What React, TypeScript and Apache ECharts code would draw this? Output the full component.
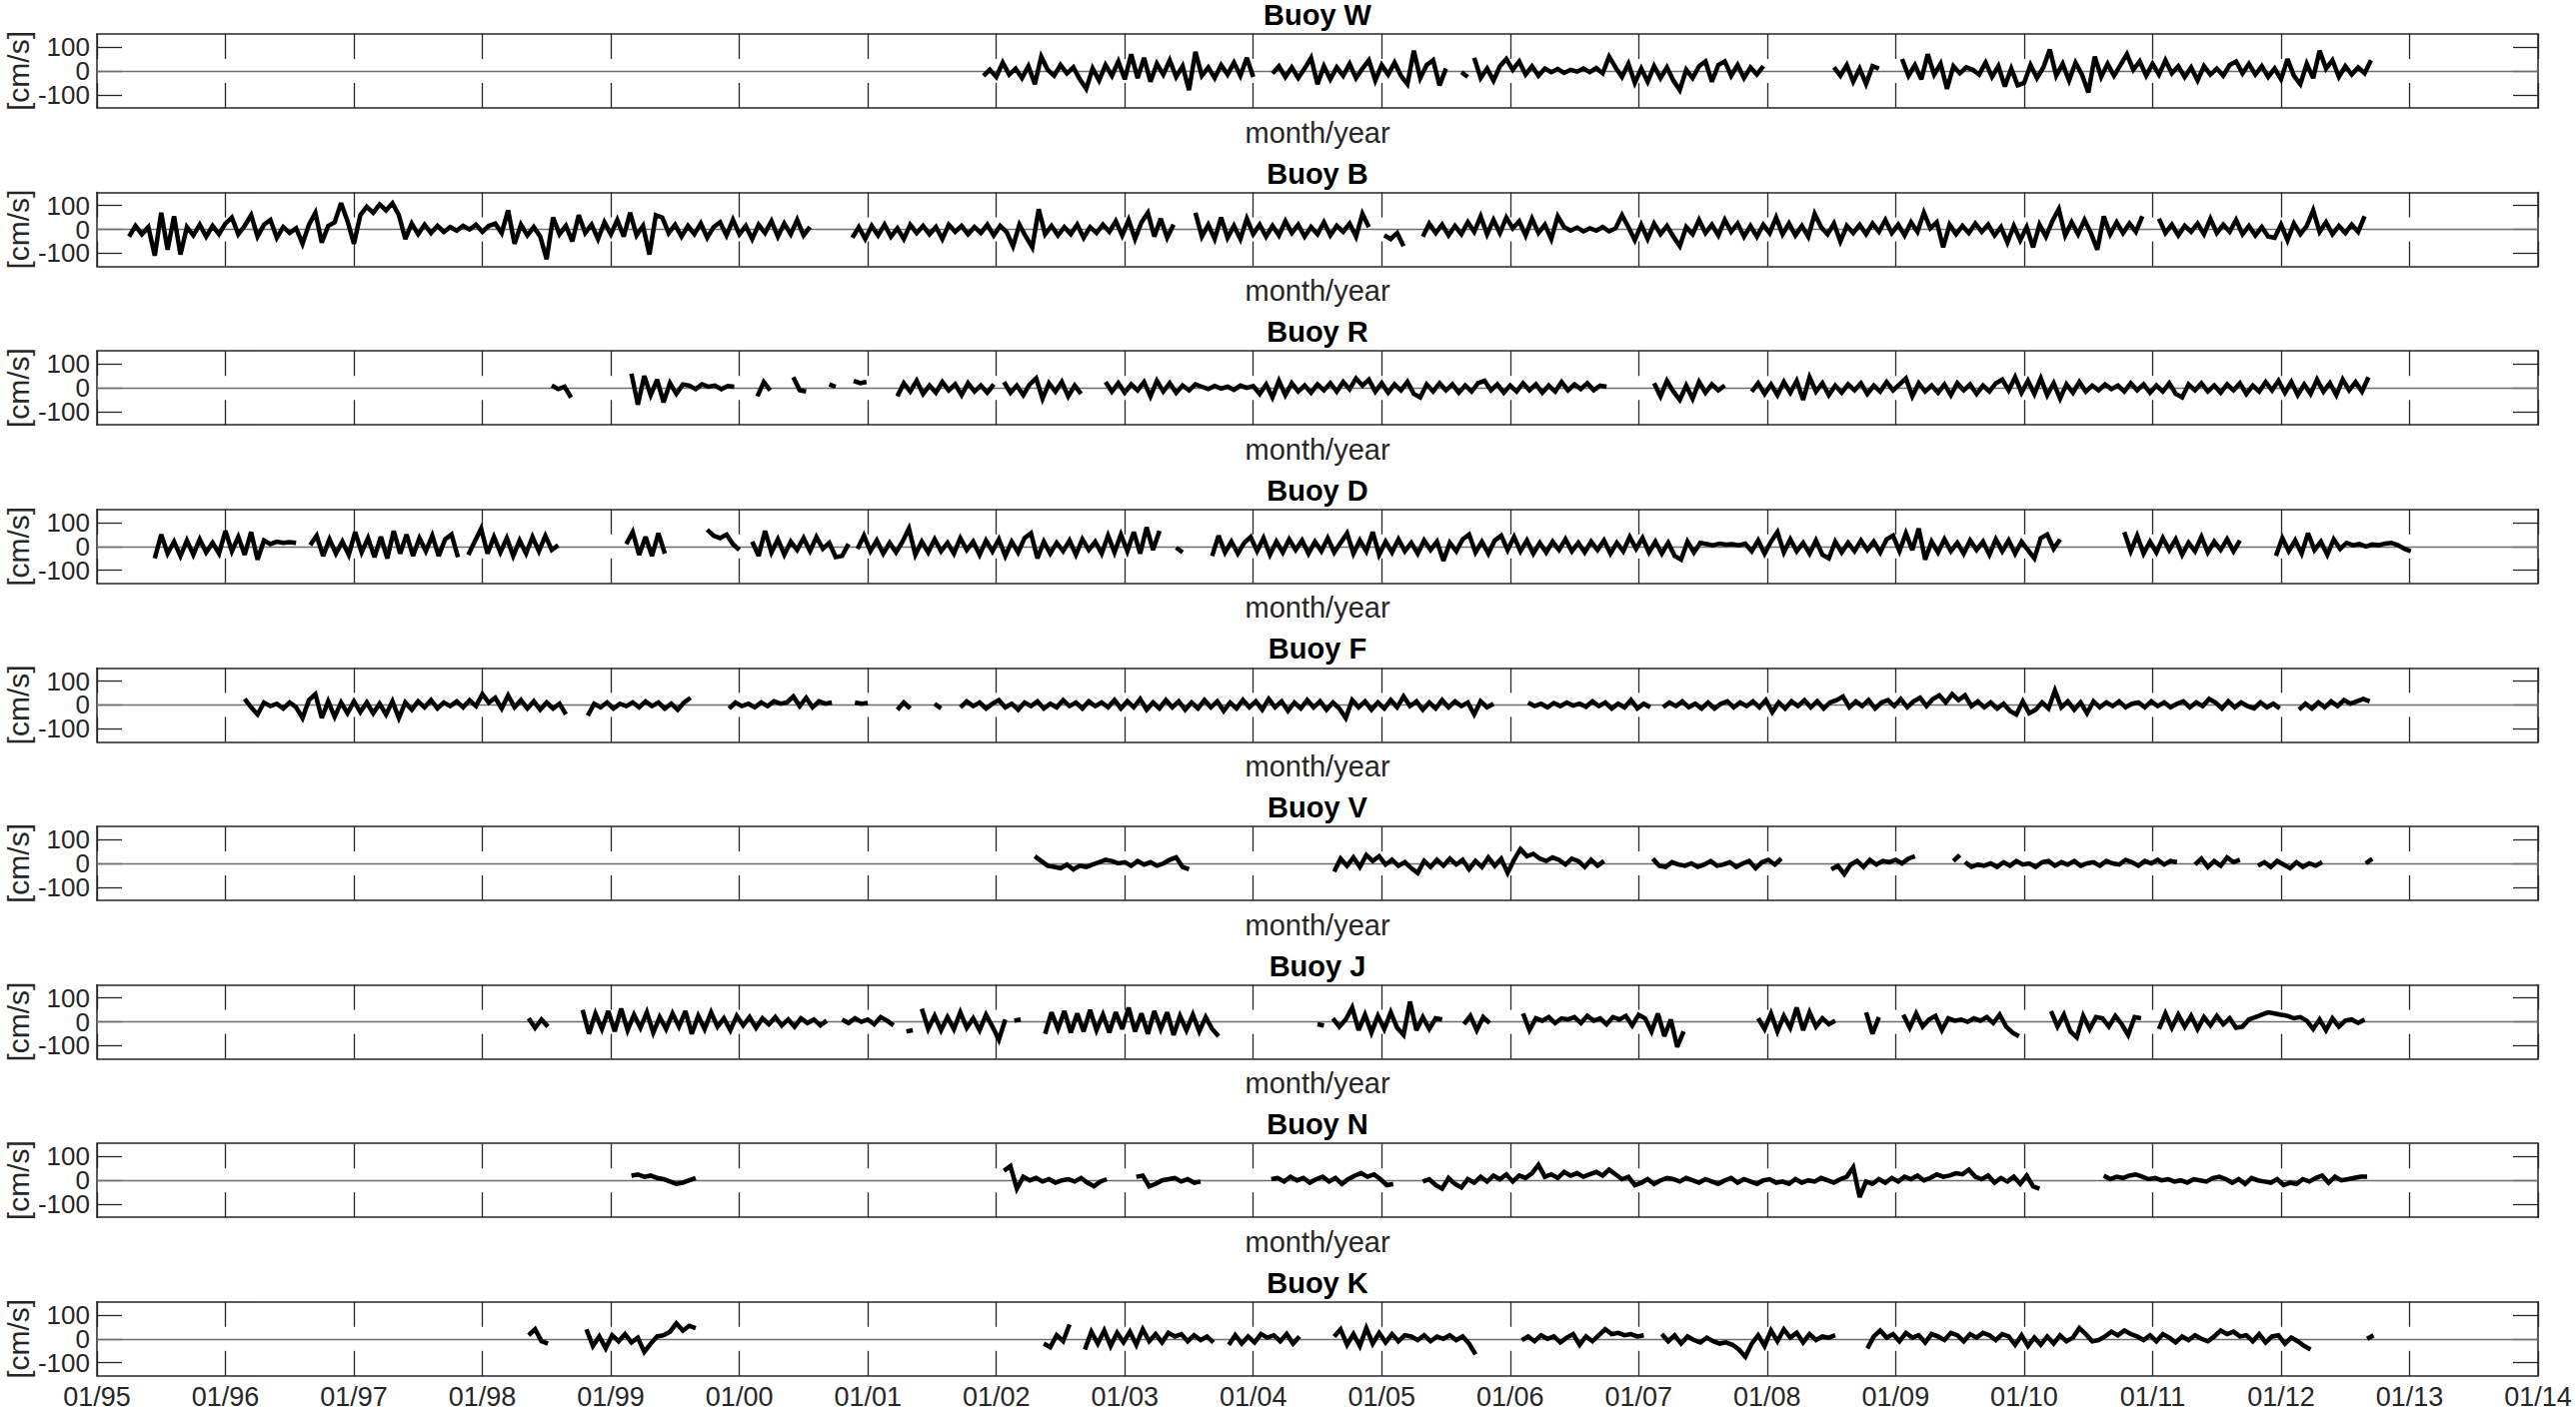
import React, { useEffect, useRef } from "react";
import * as echarts from "echarts";

// ---------- data ----------
const STEP = 0.05; // sampling step of each record, in years
const X_MIN = 1995;
const X_MAX = 2014;
const X_TICK_LABELS = [
  "01/95", "01/96", "01/97", "01/98", "01/99", "01/00", "01/01", "01/02", "01/03", "01/04",
  "01/05", "01/06", "01/07", "01/08", "01/09", "01/10", "01/11", "01/12", "01/13", "01/14",
];
const Y_TICKS = [-100, 0, 100];
const Y_OUTER_LABELS = [-100, 100];
const Y_MID_LABELS = [0];
const BUOY_NAMES = ["W", "B", "R", "D", "F", "V", "J", "N", "K"];

type Seg = [number, number[]]; // [start year, values cm/s]

const buoyW: Seg[] = [
  [2001.9, [-20, 5, -25, 35, -15, 10, -30, 20, -55, 60, 5, -20, 25, -10, 15, -35, -75, 10, -40, 25, -20, 40, -35, 70, -30, 55, -45, 30, -15, 45, -25, 20, -80, 80, -20, 15, -30, 25, -15, 35, -20, 55, -25]],
  [2004.15, [-10, 20, -25, 15, -30, 10, 55, -55, 20, -35, 15, -20, 30, -30, 10, 45, -40, 25, -15, 35, -20, -55, 85, -30, 25, 45, -60, 10]],
  [2005.62, [-5, -25]],
  [2005.72, [55, -30, 10, -40, 20, 50, 5, 40, -15, 20, -20, 10, -5, 8, -8, 5, -3, 10, -5, 12, -10, 60, 15, -25, 30, -50, 10, -45, 20, -30, 15, -40, -80, 5, -30, 20, 40, -45, 25, 40, -20, 25, -30, 15, -15, 20]],
  [2008.52, [15, -20, 25, -45, 10, -55, 20, 10]],
  [2009.05, [50, -20, 25, -35, 70, -15, 30, -75, 20, -10, 15, 5, -15, 35, -25, 20, -65, 10, -60, -50, 25, -30, 15, 90, -20, 30, -40, 35, -15, -90, 60, -25, 30, -20, 25, 70, 5, 40, -20, 30, -15, 45, -10, 20, -25, 15, -40, 20, -15, 10, -20, 25, 40, -10, 30, -15, 20, -25, 10, -35, 50, -20, -55, 30, -30, 85, 10, 45, -25, 20, -15, 15, -10, 45]],
];

const buoyB: Seg[] = [
  [1995.25, [-30, 15, -20, 10, -110, 70, -85, 55, -105, 10, -25, 20, -30, 15, -20, 25, 50, -20, 15, 60, -30, 20, 40, -35, 10, -15, 5, -60, 20, 70, -55, 15, 30, 110, 35, -60, 60, 95, 70, 105, 80, 110, 60, -40, 25, -20, 20, -15, 15, -10, 10, -5, 15, 0, 20, -10, 15, 25, -15, 80, -60, 20, -25, 10, -30, -125, 50, -20, 15, -50, 60, -15, 20, -40, 30, -20, 40, -30, 70, -25, 15, -105, 60, 50, -15, 20, -30, 15, -20, 25, -35, 10, 30, -25, 40, -20, 15, -40, 20, -15, 35, -30, 25, -20, 40, -25, 10]],
  [2000.88, [-35, 10, -40, 15, -25, 20, -30, 5, -40, 20, -15, 15, -20, 10, -40, 20, -10, 15, -20, 10, -15, 20, -25, 15, -10, -70, 20, -30, -75, 85, -20, 15, -25, 10, -20, 20, -35, 10, -15, 20, -10, 35, -25, 40, -40, 30, 70, -30, 45, -35, 20]],
  [2003.55, [70, -30, 20, -40, 50, -35, 15, -40, 45, -20, 20, -30, 15, -25, 35, -15, 20, -30, 10, -20, 30, -25, 15, -10, 25, -30, 65, 10]],
  [2005.02, [-25, -40, -15, -70]],
  [2005.32, [-30, 25, -15, 20, -25, 15, -20, 30, -10, 55, -20, 40, -15, 50, 5, 35, -25, 45, -15, 20, -40, 55, 10, -5, 8, -8, 5, -5, 10, -8, 5, 60, 10, -45, 20, -40, 25, -20, 15, -30, -70, 10, -20, 40, -15, 20, -25, 40, -10, 25, -30, 15, -30, 20, -15, 50, -20, 25, -25, 15, -30, 65, 10, -20, 25, -50, 15, -15, 20, -20, 25, -10, 40, -15, 20, -25, 30, -10, 70, 5, 30, -75, 20, -20, 15, -15, 25, -10, 20, -25, 10, -55, 15, -45, 10, -75, 20, -30, 35, 85, -25, 30, -20, 40, -15, -85, 55, -20, 30, -15, 25, -10, 55]],
  [2011.05, [45, -15, 20, -25, 15, -10, 25, -20, 45, -15, 20, -10, 40, -20, 15, -25, 10, -30, -35, 20, -45, 25, -20, 15, 80, -10, 30, -20, 15, -15, 20, -10, 55]],
];

const buoyR: Seg[] = [
  [1998.54, [10, -5, 5, -40]],
  [1999.16, [60, -70, 50, -30, 35, -60, 20, -25, 15, 10, -5, 15, 5, 10, -5, 8, 5]],
  [2000.14, [-35, 25, -10]],
  [2000.42, [45, -10, -15]],
  [2000.7, [15, 5]],
  [2000.89, [30, 20, 25]],
  [2001.23, [-35, 20, -15, 30, -25, 10, -20, 25, -10, 15, -30, 20, -15, 10, -20, 15]],
  [2002.06, [25, -20, 10, -30, 15, 40, -45, 20, -15, 25, -35, 10, -25]],
  [2002.85, [25, -15, 20, -20, 15, -10, 25, -35, 30, -15, 20, -20, 10, -10, 15, 5, -5, 8, -3, 5, -8, 10, 0, 8, -25, 15, -40, 30, -30, 20, -15, 10, -20, 15, -10, 20, -15, 25, -5, 40, 10, 35, -15, 20, -20, 15, -10, 25, -25, -40, 15, -15, 20, -10, 15, -20, 10, -15, 20, 30, -10, 15, -20, 10, -15, 20, -10, 15, -20, 10, -15, 25, -10, 15, -5, 20, -10, 10, 5]],
  [2007.12, [20, -35, 30, -15, -50, 10, -45, 25, -20, 15, -10, 10]],
  [2007.88, [-15, 20, -25, 15, -30, 25, -20, 30, -50, 45, -15, 20, -30, 10, -20, 15, -10, 20, -25, 10, -15, 25, -10, 15, 40, -35, 20, -15, 10, -20, 15, -30, 20, -10, 15, -25, 10, -15, 20, 35, -10, 45, -20, 30, -25, 40, -30, 20, -45, 15, -20, 25, -15, 10, -10, 15, -5, 10, -15, 20, -10, 15, -20, 10, -15, 20, -25, -40, 15, -10, 20, -15, 10, -20, 15, -10, 20, -25, 10, -15, 25, -10, 30, -20, 25, -30, 15, -25, 35, -15, 20, -30, 35, -10, 25, -15, 45]],
];

const buoyD: Seg[] = [
  [1995.45, [-50, 50, -30, 20, -40, 25, -35, 30, -25, 15, -30, 65, -20, 40, -35, 60, -55, 25, 10, 20, 15, 18, 15]],
  [1996.66, [5, 45, -40, 30, -30, 20, -35, 60, -25, 35, -45, 40, -50, 65, -30, 50, -40, 35, -20, 45, -40, 30, 50, -45]],
  [1997.89, [-35, 20, 75, -30, 40, -25, 35, -40, 25, -30, 40, -20, 45, -15, 5]],
  [1999.12, [10, 60, -35, 40, -40, 55, -30]],
  [1999.75, [70, 45, 35, 50, 10, -15]],
  [2000.1, [20, -40, 65, -25, 30, -35, 20, -15, 35, -20, 40, -10, 15, -45, -40, 10]],
  [2000.92, [-10, 45, -20, 25, -30, 15, -25, 20, 75, -35, 20, -25, 30, -20, 15, -30, 35, -15, 20, -35, 25, -20, 30, -40, 20, -25, 35, 55, -50, 20, -30, 15, -20, 25, -35, 30, -15, 20, -30, 45, -25, 50, -20, 60, -30, 80, -15, 65]],
  [2003.4, [-5, -25]],
  [2003.68, [-40, 45, -25, 20, -30, 15, 40, -20, 35, -35, 20, -25, 30, -15, 25, -30, 20, -20, 35, -25, 15, 55, -30, 25, -20, 60, -35, 20, -25, 30, -20, 15, -30, 25, -15, 20, -60, 15, -20, 30, 50, -25, 20, -30, 25, 45, -15, 40, -20, 25, -30, 15, -25, 20, -15, 30, -20, 15, -25, 20, -15, 25, -30, 15, -20, 40, -10, 35, -25, 20, -30, 15, -40, -55, 20, -25, 15, 10, 5, 12, 8, 10, 5, 12, -20, 25, -30, 20, 60, -25, 30, -20, 15, -30, 25, -35, -50, 20, -25, 15, -20, 25, -15, 20, -25, 30, 45, -20, 55, -15, 75, -55, 20, -25, 30, -20, 15, -30, 25, -15, 20, -35, 30, -20, 25, -30, 20, -15, -50, 35, 50, -10, 30]],
  [2010.78, [60, -20, 45, -30, 20, -25, 35, -15, 30, -35, 15, -20, 40, -25, 20, -15, 30, -20, 25]],
  [2011.96, [-40, 35, -20, 25, -30, 55, -15, 20, -35, 30, -10, 15, 5, 10, 0, 8, 5, 12, 15, 5, -10, -20]],
];

const buoyF: Seg[] = [
  [1996.15, [25, -10, -40, 10, -5, 5, -15, 10, -10, -55, 20, 45, -55, 15, -50, 10, -35, 15, -30, 10, -35, 5, -40, 15, -55, 10, -20, 15, -10, 20, -15, 10, -5, 15, -10, 20, -5, 45, 10, 30, -15, 40, -10, 20, -15, 15, -20, 10, -15, 5, -40]],
  [1998.82, [-45, 5, -10, 10, -15, 5, -5, 10, -10, 15, -5, 10, -15, 5, -20, 10, 30]],
  [1999.92, [-15, 10, -5, 5, -10, 10, -5, 15, 5, 10, 35, -5, 30, -10, 15, 5, 10]],
  [2000.9, [10, 5, 8]],
  [2001.23, [-20, 10, -15]],
  [2001.52, [5, -15]],
  [2001.72, [-10, 15, -5, 10, -15, 5, 20, -10, 5, -20, 10, -5, 15, -15, 5, -10, 20, -5, 10, -15, 15, -5, 10, -10, 20, -15, 15, -10, 25, -20, 10, -15, 20, -10, 15, -20, 10, -15, 20, -10, 15, -25, 10, -15, 20, -10, 15, -20, 25, -10, 15, -25, 10, -15, 20, -10, 15, -20, 10, -15, -55, 20, -10, 15, -20, 10, -15, 20, -10, 35, -5, 15, -20, 10, -15, 20, -10, 15, -5, 10, -40, 15, -10, 5]],
  [2006.14, [10, -5, 5, -10, 8, -5, 10, -3, 5, -8, 15, -5, 10, -15, 5, -10, 20, -15, 5, -10]],
  [2007.19, [-10, 10, -5, 15, -10, 5, -15, 10, -15, 5, 15, -10, 10, -5, 15, -10, 20, -30, 10, -15, 15, -5, 20, -10, 15, -15, 10, 20, 35, -10, 15, -5, 20, -15, 10, 20, -5, 25, -10, 15, 30, -5, 25, 40, 10, 45, 20, 40, -5, 15, -10, 10, -15, 5, -25, -40, 15, -35, -20, 10, -15, 60, -10, 15, -20, 10, -35, 15, -10, 10, -5, 15, -10, 5, 10, -10, 15, -5, 10, -10, 5, 15, -10, 10, -5, 25, 10, -15, 15, -10, 10, -5, -15, 10, -10, 5, -15]],
  [2012.14, [-20, 5, -15, 10, -10, 15, -5, 20, 5, 15, 25, 15]],
];

const buoyV: Seg[] = [
  [2002.3, [30, 10, -10, -15, -20, -5, -25, -10, -15, -5, 5, 15, 10, 0, 5, -10, 10, -5, 5, -10, 0, 15, 25, -15, -25]],
  [2004.63, [-35, 20, -10, 25, -15, 35, 10, 30, -5, 15, -10, 5, -20, -40, 10, -15, 15, -10, 20, -5, 15, -25, 10, -15, 25, -10, 20, -40, 15, 60, 30, 40, 20, 10, 25, 15, -5, 20, 10, -15, 15, -10, 10]],
  [2007.11, [20, -10, -15, 5, -5, -10, 0, -15, -5, 10, -10, -5, 5, -15, 0, 10, -20, 5, 15, -5, 20]],
  [2008.5, [-25, -10, -45, -5, 10, -15, 15, -5, 10, 5, 15, 0, 20, 30]],
  [2009.45, [10, 35]],
  [2009.54, [5, -15, -5, -10, 0, -15, 5, -10, 10, -5, 0, -15, 5, 10, -10, 5, -5, 10, -10, 0, 5, -10, 10, 0, -5, 15, 5, -10, 10, 0, 15, -5, 10, 5]],
  [2011.33, [-5, 20, -15, 10, -10, 25, 5, 15]],
  [2011.82, [-10, 5, -15, 10, -5, -20, 5, -15, 0, -10, 5]],
  [2012.66, [0, 20]],
];

const buoyJ: Seg[] = [
  [1998.36, [15, -25, 10, -20]],
  [1998.78, [50, -50, 35, -30, 45, -40, 55, -35, 30, -25, 40, -45, 20, -30, 35, -20, 45, -50, 25, -30, 40, -20, 15, -35, 25, -15, 20, -25, 15, -10, 20, -15, 10, -20, 15, -5, 10, -15, 5]],
  [2000.8, [10, -5, 15, 0, 10, -10, 20, 5, -15]],
  [2001.3, [-40, -35]],
  [2001.42, [55, -30, 25, -35, 20, -30, 40, -25, 15, -35, 30, -20, -75, 10]],
  [2002.14, [5, 10]],
  [2002.38, [-50, 40, -30, 45, -45, 35, -40, 50, -35, 30, -45, 40, -30, 60, -40, 35, -50, 45, -30, 40, -55, 25, -35, 30, -40, 20, -30, -60]],
  [2004.5, [-10, -15]],
  [2004.62, [15, -20, 10, 60, -35, 30, -45, 25, -30, 40, -25, -55, 85, -35, 20, -30, 15, 10]],
  [2005.64, [-10, 25, -35, 20, -5]],
  [2006.1, [35, -35, 15, 5, 20, -5, 15, 10, 20, -5, 25, 5, 15, -10, 20, 10, 25, -15, 30, 15, -40, 35, -60, 10, -105, -40]],
  [2007.93, [15, -30, 35, -40, 25, -25, 60, -35, 40, -20, 15, -10, 5]],
  [2008.77, [40, -50, 20]],
  [2009.06, [30, -25, 35, -20, 10, 25, -35, 15, 5, 10, 0, 15, 5, 20, -5, 30, -20, -45, -60]],
  [2010.21, [45, -20, 30, -40, -65, 25, -30, 20, 15, -20, 25, -10, -55, 20, 15]],
  [2011.05, [-30, 35, -25, 30, -20, 25, -30, 20, -15, 25, -10, 15, -25, -20, 10, 20, 30, 40, 35, 30, 25, 15, 20, 5, -30, 10, -35, 15, -20, 5, 10, -5, 10]],
];

const buoyN: Seg[] = [
  [1999.16, [20, 25, 15, 20, 10, 5, -5, -15, -10, 0, 10]],
  [2002.06, [40, 60, -35, 15, 0, 10, -5, 5, -10, 0, 5, -5, 10, -10, -25, -5, 5]],
  [2003.09, [15, 20, -25, -15, 0, 5, 10, -5, 5, -10, -5]],
  [2004.14, [5, 10, -5, 15, 0, 10, -10, 5, 15, -5, 10, -15, 5, 20, 30, 15, 25, 5, -20, -15]],
  [2005.32, [-5, 5, -20, -35, 10, -15, -30, 5, -10, 15, -5, 20, 5, 25, -5, 20, 10, 30, 65, 15, 25, 10, 35, 20, 30, 15, 25, 35, 20, 45, 25, 5, 15, -20, -10, 5, -15, 0, 10, 5, -5, 10, 0, -10, 5, -5, -15, 0, 10, -10, 5, -5, -15, 0, 5, -10, -5, -15, 5, -10, 0, -5, 10, 0, -10, 5, 15, 55, -70, -5, -15, 5, -10, 10, -5, 15, 5, 20, 0, 10, 25, 15, 20, 30, 25, 45, 15, 5, 20, -10, 10, -5, 15, -15, 20, -25, -35]],
  [2010.62, [20, 5, 15, 10, 20, 25, 15, 5, 10, 0, 5, -5, 0, -10, 5, 0, -5, 10, 15, 5, -10, 5, -15, 10, 0, -5, -10, 5, -20, -10, -15, 5, -5, 10, 20, -10, 15, 0, 5, 10, 15, 15]],
];

const buoyK: Seg[] = [
  [1998.36, [15, 40, -10, -20]],
  [1998.81, [40, -30, 10, -40, 15, -10, 20, -15, 5, -55, -20, 10, 15, 30, 65, 35, 55, 45]],
  [2002.37, [-20, -35, 15, -10, 60]],
  [2002.69, [-45, 30, -20, 35, -30, 25, -15, 30, -25, 40, -10, 20, -15, 25, 10, 20, -10, 15, -5, 10, -15]],
  [2003.81, [-25, 15, -20, 10, -15, 20, 5, 15, -10, 20, -20, 10]],
  [2004.63, [10, 40, -25, 20, -30, 45, -20, 25, -15, 20, -10, 15, 10, -5, 15, -10, 10, 0, 15, -5, 10, -20, -65]],
  [2006.09, [-5, 10, -10, 15, 0, 10, -15, 5, 20, -25, 10, -10, 15, 40, 20, 25, 15, 20, 10, 15]],
  [2007.18, [20, -10, 15, -20, 10, -5, -15, 5, -10, -20, -15, -25, -45, -75, -20, 15, -30, 35, -10, 40, 5, 25, -15, 20, -5, 10, 5, 15]],
  [2008.78, [-40, 10, 35, 5, 20, -10, 25, 5, 15, -15, 20, 10, -5, 25, 15, -10, 20, 5, 25, 15, -5, 20, 10, -25, 15, -30, 5, -25, 10, -20, 15, -10, 5, 45, 20, -10, -5, 10, 30, 15, 35, 20, 10, -5, 15, -10, 20, 5, -15, 10, -5, 15, 0, -10, 10, 35, 20, 30, 10, 15, -10, 20, -15, 10, 15, -20, 5, -10, -30, -45]],
  [2012.67, [0, 15]],
];

const BUOY_DATA: Seg[][] = [buoyW, buoyB, buoyR, buoyD, buoyF, buoyV, buoyJ, buoyN, buoyK];

// ---------- layout / style ----------
const FONT = '"Liberation Sans", Arial, Helvetica, sans-serif';
const AXIS_COLOR = "#262626";
const GRID_LEFT = 97;
const GRID_WIDTH = 2442;
const GRID_TOP0 = 34;
const GRID_PITCH = 158.6;
const GRID_HEIGHT = 74;
const Y_MIN = -155;
const Y_MAX = 155;

function toSeriesData(segs: Seg[]) {
  const out: (number | null)[][] = [];
  segs.forEach(([start, vals], k) => {
    if (k > 0) out.push([start - STEP / 2, null]);
    vals.forEach((v, i) => out.push([+(start + i * STEP).toFixed(4), v]));
  });
  return out;
}

function buildOption() {
  const n = BUOY_NAMES.length;
  const grid: any[] = [];
  const xAxis: any[] = [];
  const yAxis: any[] = [];
  const series: any[] = [];
  const graphic: any[] = [];
  const lineStyle = { color: AXIS_COLOR, width: 1.5 };
  const tickStyle = { color: AXIS_COLOR, width: 1.3 };
  const yLabelBase = {
    show: true, fontSize: 26, color: AXIS_COLOR, fontFamily: FONT, margin: 7,
    showMinLabel: true, showMaxLabel: true,
  };

  for (let i = 0; i < n; i++) {
    const top = GRID_TOP0 + GRID_PITCH * i;
    grid.push({
      left: GRID_LEFT, width: GRID_WIDTH, top, height: GRID_HEIGHT,
      containLabel: false, outerBoundsMode: "none",
    });
    const last = i === n - 1;
    // bottom x axis
    xAxis.push({
      type: "value", gridIndex: i, min: X_MIN, max: X_MAX, interval: 1, position: "bottom",
      axisLine: { show: true, onZero: false, lineStyle },
      axisTick: { show: true, inside: true, length: 25, lineStyle: tickStyle },
      axisLabel: {
        show: last, fontSize: 27, color: AXIS_COLOR, fontFamily: FONT, margin: 8,
        showMinLabel: true, showMaxLabel: true,
        formatter: (v: number) => X_TICK_LABELS[Math.round(v - X_MIN)] ?? "",
      },
      splitLine: { show: false },
      name: last ? "" : "month/year", nameLocation: "middle", nameGap: 10,
      nameTextStyle: { fontSize: 29, color: AXIS_COLOR, fontFamily: FONT, verticalAlign: "top" },
    });
    // top x axis (ticks only)
    xAxis.push({
      type: "value", gridIndex: i, min: X_MIN, max: X_MAX, interval: 1, position: "top",
      axisLine: { show: true, onZero: false, lineStyle },
      axisTick: { show: true, inside: true, length: 25, lineStyle: tickStyle },
      axisLabel: { show: false }, splitLine: { show: false },
    });
    // left y axis: line, ticks, outer labels, name
    yAxis.push({
      type: "value", gridIndex: i, min: Y_MIN, max: Y_MAX, position: "left",
      axisLine: { show: true, onZero: false, lineStyle },
      axisTick: { show: true, inside: true, length: 25, customValues: Y_TICKS, lineStyle: tickStyle },
      axisLabel: { ...yLabelBase, customValues: Y_OUTER_LABELS },
      splitLine: { show: false },
      name: "[cm/s]", nameLocation: "middle", nameGap: 64, nameRotate: 90,
      nameMoveOverlap: false,
      nameTextStyle: { fontSize: 30, color: AXIS_COLOR, fontFamily: FONT },
    });
    // right y axis (ticks only)
    yAxis.push({
      type: "value", gridIndex: i, min: Y_MIN, max: Y_MAX, position: "right",
      axisLine: { show: true, onZero: false, lineStyle },
      axisTick: { show: true, inside: true, length: 25, customValues: Y_TICKS, lineStyle: tickStyle },
      axisLabel: { show: false }, splitLine: { show: false },
    });
    // left y axis: middle label "0" only
    yAxis.push({
      type: "value", gridIndex: i, min: Y_MIN, max: Y_MAX, position: "left", offset: 0,
      axisLine: { show: false }, axisTick: { show: false },
      axisLabel: { ...yLabelBase, customValues: Y_MID_LABELS },
      splitLine: { show: false },
    });
    series.push({
      type: "line", name: "Buoy " + BUOY_NAMES[i],
      xAxisIndex: 2 * i, yAxisIndex: 3 * i,
      data: toSeriesData(BUOY_DATA[i]),
      symbol: "none", showSymbol: false, connectNulls: false, silent: true,
      lineStyle: { color: "#000", width: 4.5, join: "miter", miterLimit: 3 },
      z: 3,
      markLine: {
        silent: true, symbol: ["none", "none"], label: { show: false }, z: 1,
        lineStyle: { color: "#6e6e6e", width: 1.3, type: "solid" },
        emphasis: { disabled: true },
        data: [{ yAxis: 0 }],
      },
    });
    graphic.push({
      type: "text", x: GRID_LEFT + GRID_WIDTH / 2, y: top - 19,
      style: {
        text: "Buoy " + BUOY_NAMES[i], fill: "#000",
        font: `bold 29px ${FONT}`, textAlign: "center", textVerticalAlign: "middle",
      },
    });
  }
  return {
    animation: false,
    backgroundColor: "#ffffff",
    textStyle: { fontFamily: FONT },
    grid, xAxis, yAxis, series, graphic,
  };
}

export default function App() {
  const ref = useRef<HTMLDivElement>(null);
  useEffect(() => {
    if (!ref.current) return;
    const chart = echarts.init(ref.current, undefined, { renderer: "svg" });
    chart.setOption(buildOption() as any);
    return () => chart.dispose();
  }, []);
  return (
    <div
      ref={ref}
      style={{ position: "fixed", left: 0, top: 0, width: 2577, height: 1417, background: "#fff" }}
    />
  );
}
